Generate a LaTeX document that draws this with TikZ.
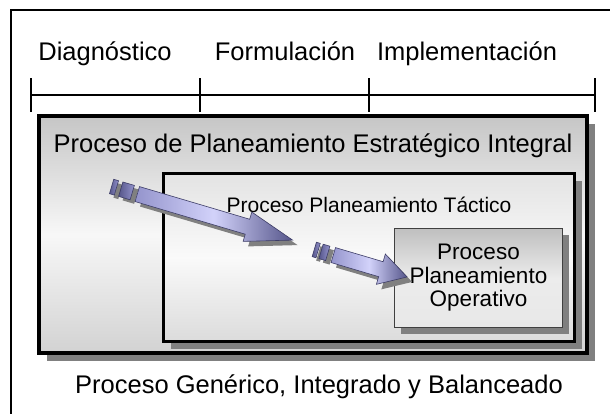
\documentclass[tikz,border=0pt]{standalone}
\usepackage{fontspec}
\setmainfont{Liberation Sans}
\usetikzlibrary{positioning,shapes.arrows,shadows}

\definecolor{shadowgray}{HTML}{808080}
\definecolor{arrowlight}{HTML}{D2D2FA}
\definecolor{arrowmid}{HTML}{9494CC}
\definecolor{arrowdark}{HTML}{55558A}
\definecolor{arrowline}{HTML}{3C3C66}

\tikzset{
  tick/.style={line width=2.5pt},
  boxshadow/.style={drop shadow={shadow xshift=#1,shadow yshift=-#1,opacity=1,fill=shadowgray}},
  procbox/.style={draw=black,rectangle},
  flowarrow/.style={single arrow,draw=arrowline,line width=0.6pt,
    left color=arrowmid,right color=arrowdark,middle color=arrowlight,
    single arrow head indent=0pt,inner sep=7.5pt,anchor=tail,rotate=-16.5,boxshadow=5pt},
  flowpiece/.style={rectangle,draw=arrowline,line width=0.6pt,
    left color=arrowdark,right color=arrowmid,minimum height=15pt,rotate=-16.5,boxshadow=4pt}
}

\begin{document}
\begin{tikzpicture}
  [x=1pt,y=-1pt,inner sep=0pt,align=center,
   every node/.style={font=\fontsize{25.5}{30}\selectfont}]

  \useasboundingbox (0,0) rectangle (610,413);
  \clip (0,0) rectangle (610,413);
  \draw [line width=2.5pt] (11,10) rectangle (640,440);

  % time line
  \coordinate (t0) at (31,95);
  \coordinate (t1) at (200,95);
  \coordinate (t2) at (369,95);
  \coordinate (t3) at (595,95);
  \draw [tick] (t0) -- (t3);
  \foreach \t in {t0,t1,t2,t3}
    \draw [tick] ([yshift=17pt]\t) -- ([yshift=-17pt]\t);

  \node (diag) [anchor=base] at (105,60) {Diagnóstico};
  \node (form) [anchor=base] at (285,60) {Formulación};
  \node (impl) [anchor=base] at (467,60) {Implementación};

  % boxes
  \node (pe) [procbox,line width=3.5pt,minimum width=548pt,minimum height=237pt,
    top color=gray!45,bottom color=gray!35,middle color=gray!6,boxshadow=8pt] at (313,234.5) {};
  \node (pe title) [below=19pt of pe.north] {Proceso de Planeamiento Estratégico Integral};

  \node (pt) [procbox,line width=3pt,minimum width=411pt,minimum height=168pt,
    top color=gray!22,bottom color=gray!28,middle color=gray!4,boxshadow=7pt] at (369,257.5) {};
  \node (pt title) [below=25pt of pt.north,font=\fontsize{21}{25}\selectfont] {Proceso Planeamiento Táctico};

  \node (po) [procbox,draw=black!75,line width=1.2pt,minimum width=168pt,minimum height=99pt,
    top color=gray!50,bottom color=gray!18,middle color=gray!15,boxshadow=6pt,
    font=\fontsize{22.5}{23.5}\selectfont] at (478.5,278) {Proceso\\Planeamiento\\Operativo};

  \node (gen) [below=20pt of pe,xshift=6pt] {Proceso Genérico, Integrado y Balanceado};

  % arrows
  \node (a1s1) [flowpiece,minimum width=5pt] at (114,187.2) {};
  \node (a1s2) [flowpiece,minimum width=12pt] at (126.5,190.9) {};
  \node (a1) [flowarrow,minimum height=162pt,single arrow head extend=7.5pt,
    single arrow tip angle=36] at (137,194) {};

  \node (a2s1) [flowpiece,minimum width=4pt] at (316.2,250) {};
  \node (a2s2) [flowpiece,minimum width=7pt] at (324.4,252.4) {};
  \node (a2) [flowarrow,minimum height=77pt,single arrow head extend=8pt,
    single arrow tip angle=60] at (333,255) {};
\end{tikzpicture}
\end{document}
